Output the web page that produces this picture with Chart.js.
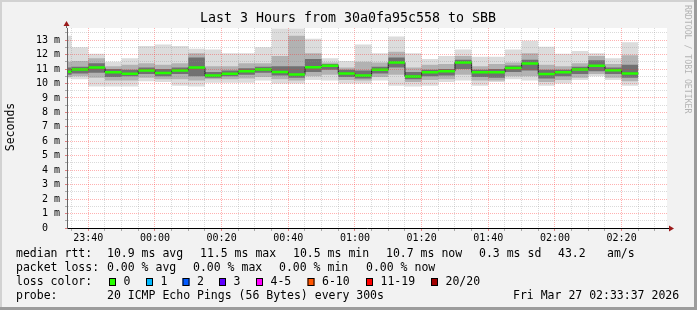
<!DOCTYPE html>
<html>
<head>
<meta charset="utf-8">
<script src="https://cdn.jsdelivr.net/npm/chart.js@4.4.1/dist/chart.umd.min.js"></script>
<style>
    html, body { margin: 0; padding: 0; background: #f2f2f2; }
    canvas { display: block; }
</style>
</head>
<body>
<canvas id="grafico" width="697" height="310"></canvas>
<script>
// Intervalos de 5 minutos (inicio de cada paso)
const horas = ['23:30','23:35','23:40','23:45','23:50','23:55','00:00','00:05','00:10','00:15',
    '00:20','00:25','00:30','00:35','00:40','00:45','00:50','00:55','01:00','01:05',
    '01:10','01:15','01:20','01:25','01:30','01:35','01:40','01:45','01:50','01:55',
    '02:00','02:05','02:10','02:15','02:20'];

// rtt en ms
const mediana = [10.82, 10.96, 11.1, 10.78, 10.68, 10.9, 10.72, 10.9, 11.1, 10.55,
    10.68, 10.85, 10.96, 10.8, 10.62, 11.12, 11.23, 10.7, 10.55, 10.95,
    11.46, 10.48, 10.77, 10.85, 11.46, 10.77, 10.77, 11.07, 11.38, 10.65,
    10.77, 10.97, 11.23, 10.91, 10.7];
const pingMax = [13.3, 12.5, 12.05, 11.5, 11.75, 12.6, 12.7, 12.6, 12.4, 12.35,
    12.1, 12.1, 12.5, 13.8, 13.8, 13.1, 11.75, 11.55, 12.7, 12.1,
    13.25, 12.1, 11.7, 11.9, 12.35, 11.85, 11.85, 12.35, 12.95, 12.55,
    12.05, 12.25, 12.1, 11.75, 12.85];
const pingAlto2 = [11.5, 11.55, 11.75, 11.2, 11.3, 11.4, 11.3, 11.4, 12.1, 11.2,
    11.2, 11.4, 11.4, 11.9, 13.3, 12.1, 11.45, 11.1, 11.5, 11.45,
    12.2, 11.1, 11.3, 11.35, 11.9, 11.2, 11.35, 11.45, 12.1, 11.3,
    11.2, 11.4, 11.9, 11.35, 11.95];
const pingAlto1 = [11.1, 11.15, 11.4, 11.0, 10.95, 11.1, 11.0, 11.1, 11.8, 10.8,
    10.9, 11.05, 11.15, 11.2, 11.2, 11.7, 11.35, 10.95, 10.9, 11.15,
    11.8, 10.8, 10.95, 11.0, 11.65, 10.95, 11.0, 11.25, 11.65, 10.95,
    10.95, 11.15, 11.6, 11.1, 11.3];
const pingBajo1 = [10.6, 10.7, 10.75, 10.45, 10.5, 10.65, 10.5, 10.65, 10.5, 10.4,
    10.5, 10.6, 10.75, 10.55, 10.4, 10.8, 10.95, 10.45, 10.35, 10.7,
    11.1, 10.3, 10.5, 10.55, 11.0, 10.45, 10.4, 10.8, 10.9, 10.35,
    10.5, 10.65, 10.85, 10.65, 10.4];
const pingBajo2 = [10.45, 10.5, 10.4, 10.2, 10.2, 10.4, 10.3, 10.3, 10.2, 10.3,
    10.3, 10.35, 10.45, 10.3, 10.2, 10.5, 10.6, 10.25, 10.2, 10.45,
    10.6, 10.1, 10.25, 10.3, 10.6, 10.2, 10.2, 10.5, 10.5, 10.1,
    10.25, 10.4, 10.65, 10.4, 10.15];
const pingMin = [10.35, 10.3, 9.8, 9.8, 9.8, 10.15, 10.1, 9.85, 9.8, 10.05,
    10.05, 10.05, 10.2, 10.0, 10.0, 10.25, 10.2, 10.0, 10.0, 10.2,
    9.85, 9.8, 9.85, 10.1, 10.2, 9.85, 10.1, 10.3, 10.2, 9.85,
    10.0, 10.25, 10.5, 10.25, 9.85];

const inicioEje = '23:33:37';
const finEje = '02:33:37';
const pasoMinutos = 5;

const etiquetasX = ['23:40','00:00','00:20','00:40','01:00','01:20','01:40','02:00','02:20'];
const etiquetasY = [0, 1, 2, 3, 4, 5, 6, 7, 8, 9, 10, 11, 12, 13];

const lineaRtt = ['10.9 ms avg', '11.5 ms max', '10.5 ms min', '10.7 ms now', '0.3 ms sd', '43.2', 'am/s'];
const lineaPerdida = ['0.00 % avg', '0.00 % max', '0.00 % min', '0.00 % now'];
const etiquetasPerdida = ['0', '1', '2', '3', '4-5', '6-10', '11-19', '20/20'];
const coloresPerdida = ['#26ff00', '#00b8ff', '#0059ff', '#5e00ff', '#ff00ff', '#ff5500', '#ff0000', '#a10000'];
const textoSonda = '20 ICMP Echo Pings (56 Bytes) every 300s';
const fechaGrafico = 'Fri Mar 27 02:33:37 2026';

// minutos desde las 23:00
function minutos(h) {
    const partes = h.split(':').map(Number);
    const hh = partes[0] >= 12 ? partes[0] - 23 : partes[0] + 1;
    return hh * 60 + partes[1] + (partes[2] || 0) / 60;
}

function etiquetaHora(v) {
    const hh = (23 + Math.floor(v / 60)) % 24;
    const mm = Math.round(v % 60);
    return String(hh).padStart(2, '0') + ':' + String(mm).padStart(2, '0');
}

function escalon(valores) {
    const puntos = valores.map((v, i) => ({ x: minutos(horas[i]), y: v }));
    puntos.push({ x: minutos(horas[horas.length - 1]) + pasoMinutos, y: valores[valores.length - 1] });
    return puntos;
}

function segmentosVerdes() {
    const puntos = [];
    mediana.forEach((v, i) => {
        const x0 = minutos(horas[i]);
        puntos.push({ x: x0, y: v });
        puntos.push({ x: x0 + pasoMinutos, y: v });
        puntos.push({ x: x0 + pasoMinutos, y: null });
    });
    return puntos;
}

const marcasX = [];
for (let m = Math.ceil(minutos(inicioEje) / 5) * 5; m <= minutos(finEje); m += 5) marcasX.push(m);
const marcasY = [];
for (let v = 0; v <= 13.5; v += 0.5) marcasY.push(v);

function capaHumo(valores, orden, fondo) {
    return {
        data: escalon(valores),
        stepped: 'before',
        borderWidth: 0,
        pointRadius: 0,
        order: orden,
        fill: fondo ? '-1' : false,
        backgroundColor: fondo || 'transparent'
    };
}

const mono = 'DejaVu Sans Mono';
const rojoGrid = 'rgba(255,40,40,0.36)';
const grisGrid = 'rgba(140,140,140,0.32)';

const decoraciones = {
    id: 'decoraciones',
    beforeDraw(chart) {
        const ctx = chart.ctx;
        const a = chart.chartArea;
        ctx.save();
        ctx.fillStyle = '#f2f2f2';
        ctx.fillRect(0, 0, chart.width, chart.height);
        ctx.fillStyle = '#ffffff';
        ctx.fillRect(a.left, a.top, a.right - a.left, a.bottom - a.top);
        ctx.restore();
    },
    afterDraw(chart) {
        const ctx = chart.ctx;
        const a = chart.chartArea;
        ctx.save();

        // flechas de los ejes
        ctx.strokeStyle = '#666';
        ctx.lineWidth = 1;
        ctx.beginPath();
        ctx.moveTo(a.left - 0.5, a.top);
        ctx.lineTo(a.left - 0.5, a.top - 3);
        ctx.stroke();
        ctx.strokeStyle = '#000';
        ctx.beginPath();
        ctx.moveTo(a.right, a.bottom + 0.5);
        ctx.lineTo(a.right + 3, a.bottom + 0.5);
        ctx.stroke();
        ctx.fillStyle = '#9b1b1b';
        ctx.beginPath();
        ctx.moveTo(a.left - 0.5, a.top - 7);
        ctx.lineTo(a.left - 3.5, a.top - 2);
        ctx.lineTo(a.left + 2.5, a.top - 2);
        ctx.closePath();
        ctx.fill();
        ctx.beginPath();
        ctx.moveTo(a.right + 7, a.bottom + 0.5);
        ctx.lineTo(a.right + 2, a.bottom - 2.5);
        ctx.lineTo(a.right + 2, a.bottom + 3.5);
        ctx.closePath();
        ctx.fill();

        // titulo
        ctx.fillStyle = '#000';
        ctx.textBaseline = 'middle';
        ctx.textAlign = 'center';
        ctx.font = '13.3px "' + mono + '"';
        ctx.fillText('Last 3 Hours from 30a0fa95c558 to SBB', 348, 19);

        // titulo eje y
        ctx.save();
        ctx.translate(11, 127);
        ctx.rotate(-Math.PI / 2);
        ctx.font = '11.5px "' + mono + '"';
        ctx.fillText('Seconds', 0, 0);
        ctx.restore();

        // marca de agua
        ctx.save();
        ctx.translate(687, 5);
        ctx.rotate(Math.PI / 2);
        ctx.textAlign = 'left';
        ctx.fillStyle = '#b4b4b4';
        ctx.font = '8.2px "' + mono + '"';
        ctx.fillText('RRDTOOL / TOBI OETIKER', 0, 0);
        ctx.restore();

        // leyenda
        ctx.textAlign = 'left';
        ctx.font = '11.5px "' + mono + '"';
        ctx.fillText('median rtt:', 16, 254.5);
        [107, 200, 293, 386, 479, 558, 607].forEach((x, i) => ctx.fillText(lineaRtt[i], x, 254.5));
        ctx.fillText('packet loss:', 16, 268.5);
        [107, 193, 279, 366].forEach((x, i) => ctx.fillText(lineaPerdida[i], x, 268.5));
        ctx.fillText('loss color:', 16, 282.5);
        const cajas = [109, 146, 182.5, 219, 256, 307.5, 366, 431];
        cajas.forEach((x, i) => {
            ctx.fillStyle = coloresPerdida[i];
            ctx.fillRect(x, 278, 7, 8);
            ctx.strokeStyle = '#000';
            ctx.strokeRect(x + 0.5, 278.5, 6, 7);
            ctx.fillStyle = '#000';
            ctx.fillText(etiquetasPerdida[i], x + 14.5, 282.5);
        });
        ctx.fillText('probe:', 16, 296.5);
        ctx.fillText(textoSonda, 107, 296.5);
        ctx.fillText(fechaGrafico, 513, 296.5);

        // marco
        ctx.fillStyle = '#d2d2d2';
        ctx.fillRect(0, 0, chart.width, 2);
        ctx.fillRect(0, 0, 2, chart.height);
        ctx.fillStyle = '#9c9c9c';
        ctx.fillRect(chart.width - 3, 0, 3, chart.height);
        ctx.fillRect(0, chart.height - 3, chart.width, 3);
        ctx.restore();
    }
};

const ctx = document.getElementById('grafico').getContext('2d');
new Chart(ctx, {
    type: 'line',
    data: {
        datasets: [
            capaHumo(pingMax, 6),
            capaHumo(pingMin, 6, '#dcdcdc'),
            capaHumo(pingAlto2, 5),
            capaHumo(pingBajo2, 5, '#b2b2b2'),
            capaHumo(pingAlto1, 4),
            capaHumo(pingBajo1, 4, '#717171'),
            {
                data: escalon(mediana),
                stepped: 'before',
                borderColor: '#202020',
                borderWidth: 1,
                pointRadius: 0,
                fill: false,
                order: 2
            },
            {
                data: segmentosVerdes(),
                borderColor: coloresPerdida[0],
                borderWidth: 2.5,
                pointRadius: 0,
                fill: false,
                spanGaps: false,
                order: 1
            }
        ]
    },
    options: {
        responsive: false,
        animation: false,
        events: [],
        layout: { padding: { top: 28, right: 30, left: 0, bottom: 0 } },
        plugins: {
            legend: { display: false },
            tooltip: { enabled: false },
            title: { display: false }
        },
        scales: {
            x: {
                type: 'linear',
                min: minutos(inicioEje),
                max: minutos(finEje),
                afterFit: s => { s.height = 82; },
                afterBuildTicks: s => { s.ticks = marcasX.map(v => ({ value: v })); },
                grid: {
                    z: 1,
                    color: c => (c.tick && c.tick.value % 20 === 0) ? rojoGrid : grisGrid,
                    lineWidth: 1,
                    drawTicks: true,
                    tickLength: 3,
                    tickColor: c => (c.tick && c.tick.value % 20 === 0) ? '#e08080' : '#aaaaaa'
                },
                border: { display: true, color: '#000', width: 1, dash: [1, 1], z: 2 },
                ticks: {
                    autoSkip: false,
                    maxRotation: 0,
                    padding: 1,
                    color: '#000',
                    font: { family: mono, size: 10 },
                    callback: v => etiquetasX.includes(etiquetaHora(v)) && v % 20 === 0 ? etiquetaHora(v) : ''
                }
            },
            y: {
                type: 'linear',
                min: 0,
                max: 13.84,
                afterFit: s => { s.width = 67; },
                afterBuildTicks: s => { s.ticks = marcasY.map(v => ({ value: v })); },
                grid: {
                    z: 1,
                    color: c => (c.tick && Number.isInteger(c.tick.value)) ? rojoGrid : grisGrid,
                    lineWidth: 1,
                    drawTicks: true,
                    tickLength: 2,
                    tickColor: c => (c.tick && Number.isInteger(c.tick.value)) ? '#e08080' : '#aaaaaa'
                },
                border: { display: true, color: '#666', width: 1, dash: [1, 1], z: 2 },
                ticks: {
                    autoSkip: false,
                    padding: 5,
                    color: '#000',
                    font: { family: mono, size: 10 },
                    callback: v => etiquetasY.includes(v) ? (v === 0 ? '0  ' : v + ' m') : ''
                }
            }
        }
    },
    plugins: [decoraciones]
});
</script>
</body>
</html>
